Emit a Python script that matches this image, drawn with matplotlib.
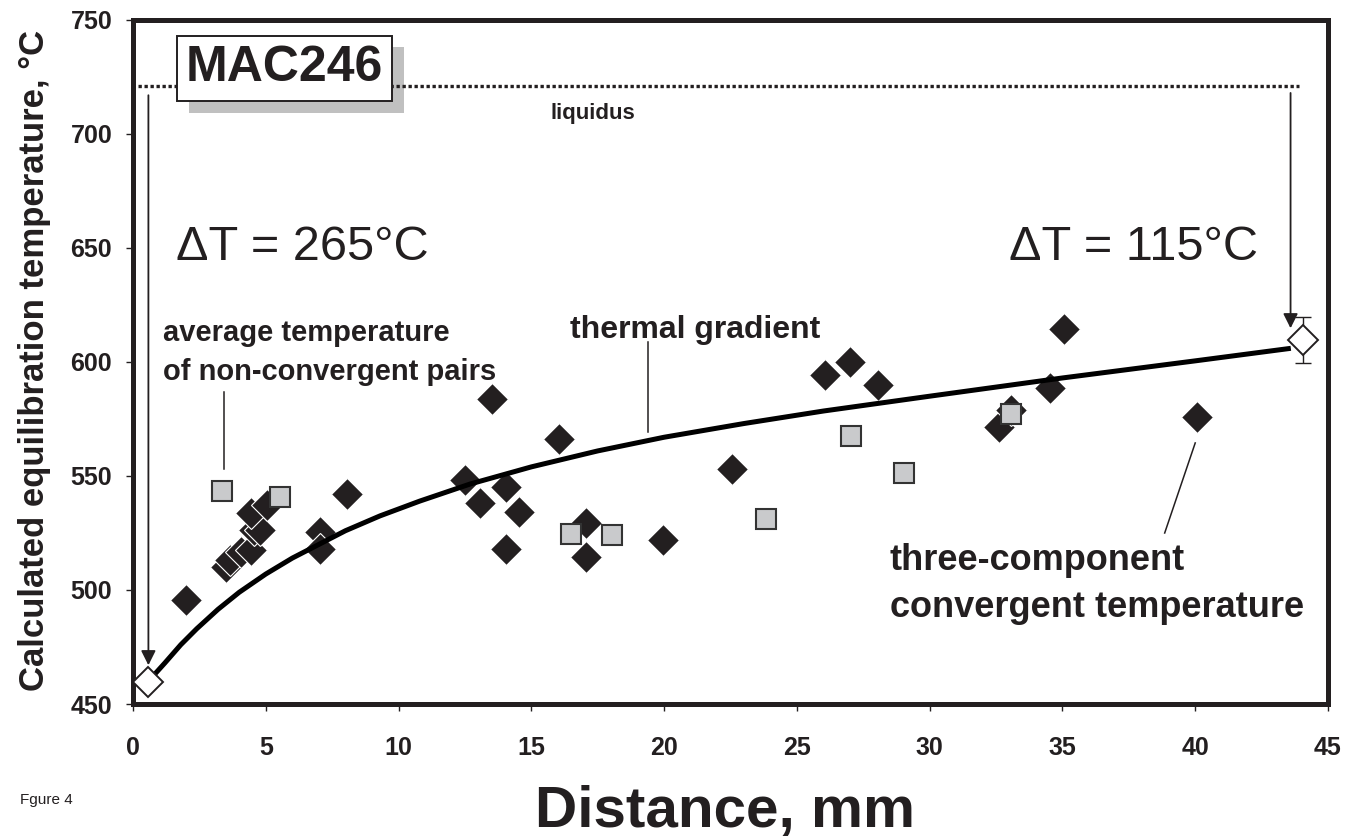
import matplotlib
matplotlib.use("Agg")
import matplotlib.pyplot as plt
from matplotlib.patches import Rectangle

plt.rcParams["font.family"] = ["Liberation Sans", "DejaVu Sans"]

INK = "#231f20"
GREY = "#c9cacc"

# Two-component (diamond) temperatures
diamond_x = [2.0, 3.5, 3.65, 4.05, 4.45, 4.55, 4.8, 4.45, 5.05, 7.05, 7.05, 8.05,
             12.5, 13.05, 13.5, 14.05, 14.05, 14.55, 16.05, 17.05, 17.05, 19.95,
             22.55, 26.05, 27.0, 28.05, 32.6, 33.05, 34.55, 35.05, 40.05]
diamond_t = [495.6, 510.0, 513.2, 516.8, 517.5, 526.3, 526.3, 533.6, 537.3, 525.6, 518.0, 542.1,
             548.2, 538.0, 583.6, 545.0, 518.0, 534.3, 566.4, 529.3, 514.6, 521.9,
             552.9, 594.3, 599.9, 589.9, 571.6, 579.0, 588.5, 614.3, 575.7]

# average temperature of non-convergent pairs (grey squares)
square_x = [3.35, 5.55, 16.5, 18.05, 23.85, 27.05, 29.05, 33.05]
square_t = [543.5, 540.7, 524.4, 524.1, 531.1, 567.5, 551.2, 577.2]

# end points (open diamonds)
end_x = [0.58, 44.06]
end_t = [459.8, 609.6]
end_err = [0, 10]

# thermal gradient curve
curve_x = [0.58, 1.2, 1.8, 2.4, 3.2, 4.0, 5.0, 6.0, 7.0, 8.0, 9.3, 10.8, 12.7,
           15.0, 17.5, 20.0, 23.0, 26.0, 30.0, 35.0, 40.0, 43.6]
curve_t = [460, 468, 476, 483, 491.5, 499, 507, 514, 520, 526, 532.5, 539, 546.5,
           554, 561, 567, 573, 578.5, 585, 593, 600.5, 606]

liquidus_t = 721
xticks = [0, 5, 10, 15, 20, 25, 30, 35, 40, 45]
yticks = [450, 500, 550, 600, 650, 700, 750]

fig = plt.figure(figsize=(13.61, 8.40), dpi=100)
ax = fig.add_axes([133 / 1361, 1 - 704 / 840, (1328 - 133) / 1361, (704 - 20) / 840])

ax.plot(diamond_x, diamond_t, ls="none", marker="D", ms=16, mfc=INK,
        mec="white", mew=0.8, zorder=3)
ax.plot(square_x, square_t, ls="none", marker="s", ms=15, mfc=GREY,
        mec="#333333", mew=1.5, zorder=4)
ax.plot(curve_x, curve_t, color="black", lw=3.6, solid_capstyle="butt", zorder=5)
ax.errorbar(end_x[1], end_t[1], yerr=end_err[1], fmt="none", ecolor=INK,
            elinewidth=1, capsize=6, capthick=1, zorder=5)
ax.plot(end_x, end_t, ls="none", marker="D", ms=15, mfc="white",
        mec=INK, mew=1.4, zorder=6)

# liquidus
ax.plot([0.2, 43.9], [liquidus_t, liquidus_t], color=INK, lw=2.4,
        ls=(0, (1, 0.8)), zorder=3)
ax.text(17.3, 709, "liquidus", fontsize=16, fontweight="bold", color=INK,
        ha="center", va="center")

# sample label box with shadow
ax.add_patch(Rectangle((2.12, 709.1), 8.08, 28.9, facecolor="#c0c0c0",
                       edgecolor="none", zorder=2))
ax.add_patch(Rectangle((1.645, 714.6), 8.1, 28.4, facecolor="white",
                       edgecolor=INK, lw=1.4, zorder=4))
ax.text(5.69, 728.8, "MAC246", fontsize=36, fontweight="bold", color=INK,
        ha="center", va="center", zorder=5)

# arrows from liquidus down to end points
arrow = dict(arrowstyle="-|>", color=INK, lw=1.3, mutation_scale=22,
             shrinkA=0, shrinkB=0)
ax.annotate("", xy=(0.58, 467), xytext=(0.58, 717), arrowprops=arrow, zorder=4)
ax.annotate("", xy=(43.59, 614.8), xytext=(43.59, 718), arrowprops=arrow, zorder=4)

ax.text(1.62, 650, "ΔT = 265°C", fontsize=35, color=INK, ha="left", va="center")
ax.text(33.0, 650, "ΔT = 115°C", fontsize=35, color=INK, ha="left", va="center")

# annotations and leader lines
ax.text(1.14, 609.2, "average temperature", fontsize=21, fontweight="bold",
        color=INK, ha="left", va="baseline")
ax.text(1.14, 592.1, "of non-convergent pairs", fontsize=21, fontweight="bold",
        color=INK, ha="left", va="baseline")
ax.plot([3.43, 3.43], [586.8, 553], color=INK, lw=1.1)

ax.text(16.45, 610.4, "thermal gradient", fontsize=23, fontweight="bold",
        color=INK, ha="left", va="baseline")
ax.plot([19.4, 19.4], [608.8, 569.3], color=INK, lw=1.1)

ax.text(28.5, 513, "three-component", fontsize=26, fontweight="bold",
        color=INK, ha="left", va="center")
ax.text(28.5, 492.5, "convergent temperature", fontsize=26, fontweight="bold",
        color=INK, ha="left", va="center")
ax.plot([40.0, 38.85], [564.5, 525], color=INK, lw=1.1)

ax.set_xlim(0, 45)
ax.set_ylim(450, 750)
ax.set_xticks(xticks)
ax.set_yticks(yticks)
for lab in ax.get_xticklabels() + ax.get_yticklabels():
    lab.set_fontweight("bold")
ax.tick_params(axis="both", direction="out", length=5, width=1, color=INK,
               labelsize=18, labelcolor=INK)
ax.tick_params(axis="x", pad=18)
ax.tick_params(axis="y", pad=10)
for sp in ax.spines.values():
    sp.set_linewidth(3.6)
    sp.set_color(INK)

fig.text(35 / 1361, 1 - 360 / 840, "Calculated equilibration temperature, °C",
         fontsize=25, fontweight="bold", color=INK, rotation=90,
         ha="center", va="center")
fig.text(725 / 1361, 1 - 812 / 840, "Distance, mm", fontsize=42,
         fontweight="bold", color=INK, ha="center", va="center")
fig.text(20 / 1361, 1 - 800 / 840, "Fgure 4", fontsize=11, color=INK,
         ha="left", va="center")

fig.savefig("out.png", dpi=100)
